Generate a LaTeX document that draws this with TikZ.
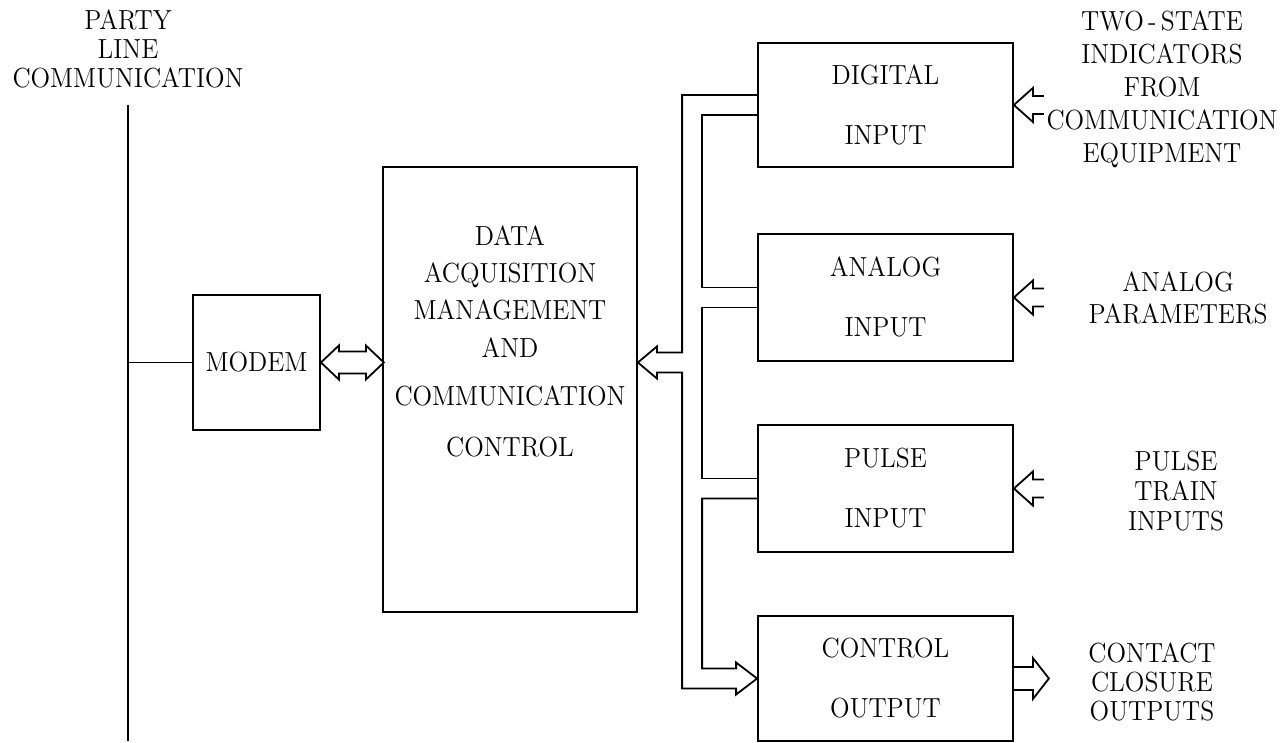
\documentclass[tikz,border=0pt]{standalone}
\usepackage{graphicx}
\usetikzlibrary{calc}
\newcommand{\stx}[1]{\raisebox{-1.5pt}[\height][\depth]{\scalebox{0.93}[1]{\begin{tabular}{@{}c@{}}#1\end{tabular}}}}
\begin{document}
\begin{tikzpicture}[x=0.5pt,y=-0.5pt,
  txt/.style={font=\fontsize{13.8}{16}\selectfont, align=center, inner sep=0pt},
  box/.style={draw, line width=0.9pt, font=\fontsize{13.8}{16}\selectfont, align=center, inner sep=0pt},
  conn/.style={line width=0.9pt, line join=miter}]
\useasboundingbox (0,0) rectangle (1285,743);
% party line
\node[txt, font=\fontsize{13.8}{14.5}\selectfont] (party) at (128,50) {\stx{PARTY\\LINE\\COMMUNICATION}};
\coordinate (ptop) at (128,105);
\coordinate (pbot) at (128,741);
\draw[conn] (ptop) -- (pbot);
% boxes
\node[box, minimum width=63.5pt, minimum height=67.5pt] (modem) at (256.5,362.5) {\stx{MODEM}};
\node[box, minimum width=127pt, minimum height=222.5pt] (damc) at (510,389.5) {};
\node[txt] (damctext) at (510,342) {\stx{DATA\\[2.5pt]ACQUISITION\\[2.5pt]MANAGEMENT\\[3pt]AND\\[8pt]COMMUNICATION\\[9.5pt]CONTROL}};
\node[box, minimum width=127.5pt, minimum height=62pt] (dig) at (885.5,105) {\stx{DIGITAL\\[14pt]INPUT}};
\node[box, minimum width=127.5pt, minimum height=63.5pt] (ana) at (885.5,297.5) {\stx{ANALOG\\[14pt]INPUT}};
\node[box, minimum width=127.5pt, minimum height=63.5pt] (pul) at (885.5,488.5) {\stx{PULSE\\[14pt]INPUT}};
\node[box, minimum width=127.5pt, minimum height=62.5pt] (ctl) at (885.5,678.5) {\stx{CONTROL\\[14pt]OUTPUT}};
% side labels
\node[txt, font=\fontsize{13.8}{16.5}\selectfont] (twostate) at (1162,87) {\stx{TWO\,-\,STATE\\INDICATORS\\FROM\\COMMUNICATION\\EQUIPMENT}};
\node[txt] (analogp) at (1178,298) {\stx{ANALOG\\PARAMETERS}};
\node[txt, font=\fontsize{13.8}{15}\selectfont] (pulset) at (1176,491) {\stx{PULSE\\TRAIN\\INPUTS}};
\node[txt, font=\fontsize{13.8}{14.5}\selectfont] (contact) at (1152,683) {\stx{CONTACT\\CLOSURE\\OUTPUTS}};
% party line to modem
\draw[conn] (modem.west) -- (modem.west -| ptop);
% modem <=> damc double arrow
\draw[conn] (modem.east) -- ++(18,-17) -- ++(0,6) -- ++(27,0) -- ++(0,-6) -- ++(18,17)
  -- ++(-18,17) -- ++(0,-6) -- ++(-27,0) -- ++(0,6) -- cycle;
% bus
\coordinate (tipD) at (damc.east |- modem.east);
\draw[conn] ($(dig.west)+(0,-10)$) -- ++(-75,0) |- ($(tipD)+(19,-10)$) -- ++(0,-6) -- (tipD)
  -- ++(19,16) -- ++(0,-6) -| ($(ctl.west)+(-75,10)$) -- ($(ctl.west)+(-21,10)$) -- ++(0,6)
  -- (ctl.west) -- ++(-21,-16) -- ++(0,6) -| ($(pul.west)+(-55,10)$) -- ($(pul.west)+(0,10)$);
\draw[conn] ($(dig.west)+(0,10)$) -- ++(-55,0) |- ($(ana.west)+(0,-10)$);
\draw[conn] ($(ana.west)+(0,10)$) -- ++(-55,0) |- ($(pul.west)+(0,-10)$);
% input arrows
\draw[conn] ($(dig.east)+(30,-9)$) -- ++(-11,0) -- ++(0,-8) -- (dig.east) -- ++(19,17) -- ++(0,-8) -- ++(11,0);
\draw[conn] ($(ana.east)+(30,-9)$) -- ++(-11,0) -- ++(0,-8) -- (ana.east) -- ++(19,17) -- ++(0,-8) -- ++(11,0);
\draw[conn] ($(pul.east)+(30,-9)$) -- ++(-11,0) -- ++(0,-8) -- (pul.east) -- ++(19,17) -- ++(0,-8) -- ++(11,0);
% output arrow
\draw[conn] ($(ctl.east)+(0,-11.5)$) -- ++(19,0) -- ++(0,-9) -- ++(16,20.5) -- ++(-16,20.5) -- ++(0,-9) -- ++(-19,0);
\end{tikzpicture}
\end{document}
